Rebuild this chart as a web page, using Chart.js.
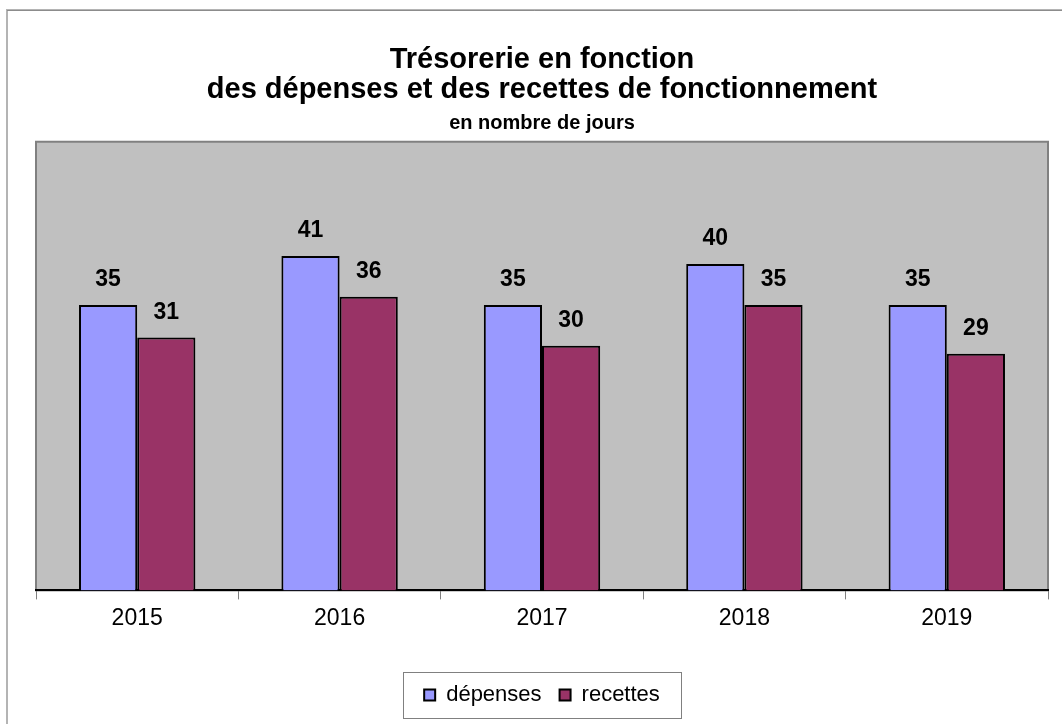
<!DOCTYPE html>
<html>
<head>
<meta charset="utf-8">
<script src="https://cdn.jsdelivr.net/npm/chart.js@4"></script>
<style>
  html, body { margin: 0; padding: 0; background: #fff; }
  #wrap { width: 1062px; height: 724px; }
</style>
</head>
<body>
<div id="wrap"><canvas id="chart"></canvas></div>
<script>
const years = ['2015', '2016', '2017', '2018', '2019'];
const depenses = [35, 41, 35, 40, 35];
const recettes = [31, 36, 30, 35, 29];

const FONT = "'Liberation Sans', Arial, sans-serif";

// fond gris de la zone de tracé + cadre extérieur
const frame = {
  id: 'frame',
  beforeDraw(chart) {
    const ctx = chart.ctx, a = chart.chartArea;
    ctx.save();
    ctx.strokeStyle = '#b4b4b4';
    ctx.lineWidth = 2;
    ctx.beginPath();
    ctx.moveTo(7, 724); ctx.lineTo(7, 10); ctx.lineTo(1062, 10);
    ctx.stroke();
    ctx.strokeStyle = '#8c8c8c';
    ctx.lineWidth = 1;
    ctx.beginPath(); ctx.moveTo(7, 10.5); ctx.lineTo(1062, 10.5); ctx.stroke();
    ctx.fillStyle = '#c0c0c0';
    ctx.fillRect(a.left, a.top, a.right - a.left, a.bottom - a.top);
    ctx.strokeStyle = '#808080';
    ctx.lineWidth = 2;
    ctx.strokeRect(a.left, a.top, a.right - a.left, a.bottom - a.top);
    ctx.restore();
  },
  afterDraw(chart) {
    // cadre de la légende
    const boxes = chart.legend.legendHitBoxes;
    if (!boxes || !boxes.length) return;
    const ctx = chart.ctx;
    const l = boxes[0].left - 21;
    const last = boxes[boxes.length - 1];
    const r = last.left + last.width + 21;
    const cy = boxes[0].top + boxes[0].height / 2;
    ctx.save();
    ctx.strokeStyle = '#808080';
    ctx.lineWidth = 1;
    ctx.strokeRect(Math.round(l) + 0.5, Math.round(cy - 23) + 0.5, Math.round(r - l), 46);
    ctx.restore();
  }
};

// valeurs au-dessus des barres
const valueLabels = {
  id: 'valueLabels',
  afterDatasetsDraw(chart) {
    const ctx = chart.ctx;
    ctx.save();
    ctx.font = 'bold 23px ' + FONT;
    ctx.fillStyle = '#000';
    ctx.textAlign = 'center';
    ctx.textBaseline = 'middle';
    chart.data.datasets.forEach((ds, i) => {
      chart.getDatasetMeta(i).data.forEach((bar, j) => {
        ctx.fillText(ds.data[j], bar.x, bar.y - 25);
      });
    });
    ctx.restore();
  }
};

new Chart(document.getElementById('chart'), {
  type: 'bar',
  plugins: [frame, valueLabels],
  data: {
    labels: years,
    datasets: [
      {
        label: 'dépenses',
        data: depenses,
        backgroundColor: '#9999ff',
        borderColor: '#000',
        borderWidth: 2,
        categoryPercentage: 0.575,
        barPercentage: 1
      },
      {
        label: 'recettes',
        data: recettes,
        backgroundColor: '#993366',
        borderColor: '#000',
        borderWidth: 2,
        categoryPercentage: 0.575,
        barPercentage: 1
      }
    ]
  },
  options: {
    responsive: true,
    maintainAspectRatio: false,
    animation: false,
    layout: { padding: { left: 36, right: 14, top: 0, bottom: 8 } },
    plugins: {
      title: {
        display: true,
        text: ['Trésorerie en fonction', 'des dépenses et des recettes de fonctionnement'],
        color: '#000',
        font: { family: FONT, size: 29, weight: 'bold', lineHeight: 1.03 },
        padding: { top: 45, bottom: 0 }
      },
      subtitle: {
        display: true,
        text: 'en nombre de jours',
        color: '#000',
        font: { family: FONT, size: 20, weight: 'bold', lineHeight: 1.2 },
        padding: { top: 7, bottom: 6 }
      },
      legend: {
        position: 'bottom',
        labels: {
          color: '#000',
          font: { family: FONT, size: 22 },
          boxWidth: 11,
          boxHeight: 11,
          padding: 18
        }
      },
      tooltip: { enabled: false }
    },
    scales: {
      x: {
        grid: {
          display: true,
          drawOnChartArea: false,
          drawTicks: true,
          tickLength: 9,
          color: '#808080'
        },
        border: { display: true, color: '#000', width: 2 },
        ticks: { color: '#000', font: { family: FONT, size: 23 }, padding: 5 },
        afterFit(scale) { scale.height += 29; }
      },
      y: {
        display: false,
        min: 0,
        max: 55
      }
    }
  }
});
</script>
</body>
</html>
